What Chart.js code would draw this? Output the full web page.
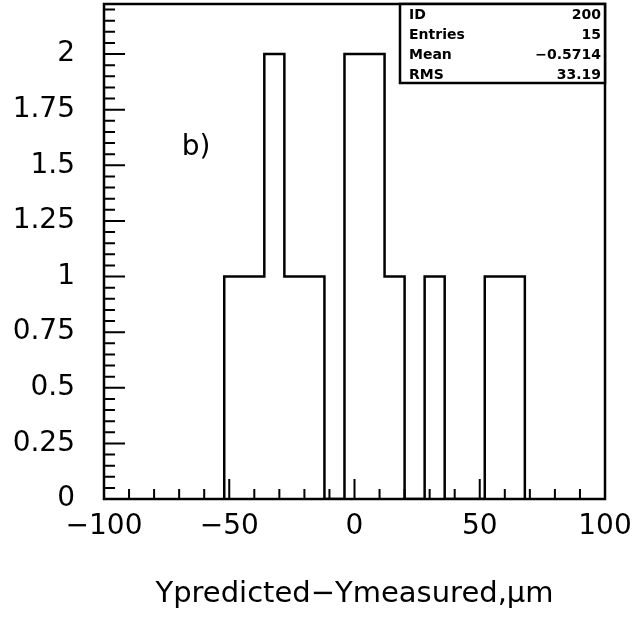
<!DOCTYPE html>
<html>
<head>
<meta charset="utf-8">
<script src="https://cdn.jsdelivr.net/npm/chart.js@4"></script>
<style>
html, body { margin: 0; padding: 0; background: #fff; }
</style>
</head>
<body>
<canvas id="histo" width="639" height="622"></canvas>
<script>
// histogram 200: bin edges (um) and entries per bin
var binEdges = [-52, -44, -36, -28, -20, -12, -4, 4, 12, 20, 28, 36, 44, 52, 60, 68];
var binCounts = [1, 1, 2, 1, 1, 0, 2, 2, 1, 0, 1, 0, 0, 1, 1];
var xTicks = [-100, -50, 0, 50, 100];
var yTicks = [0, 0.25, 0.5, 0.75, 1, 1.25, 1.5, 1.75, 2];
var statNames = ['ID', 'Entries', 'Mean', 'RMS'];
var statValues = ['200', '15', '-0.5714', '33.19'];
var xTitle = 'Ypredicted\u2212Ymeasured,\u03bcm';
var panelLabel = 'b)';

var FONT = "'DejaVu Sans', sans-serif";

function outline() {
    var pts = [{x: binEdges[0], y: 0}];
    for (var i = 0; i < binCounts.length; i++) {
        pts.push({x: binEdges[i], y: binCounts[i]});
    }
    pts.push({x: binEdges[binEdges.length - 1], y: 0});
    return pts;
}

function minus(v) {
    return String(v).replace('-', '\u2212');
}

// frame, inward ticks, stats box and panel label
var paw = {
    id: 'paw',
    afterDraw: function(chart) {
        var ctx = chart.ctx, a = chart.chartArea;
        var xs = chart.scales.x, ys = chart.scales.y;
        var v, p;
        ctx.save();
        ctx.strokeStyle = '#000';
        ctx.lineWidth = 2.5;
        ctx.strokeRect(a.left, a.top, a.right - a.left, a.bottom - a.top);

        ctx.lineWidth = 2;
        ctx.beginPath();
        for (v = -100; v <= 100.001; v += 10) {
            p = xs.getPixelForValue(v);
            ctx.moveTo(p, a.bottom);
            ctx.lineTo(p, a.bottom - (Math.abs(v % 50) < 0.001 ? 20 : 10));
        }
        for (v = 0; v <= ys.max + 0.0001; v += 0.05) {
            p = ys.getPixelForValue(v);
            var major = Math.abs(v / 0.25 - Math.round(v / 0.25)) < 0.001;
            ctx.moveTo(a.left, p);
            ctx.lineTo(a.left + (major ? 21 : 11), p);
        }
        ctx.stroke();

        // statistics box
        var bx = 400, by = a.top, bw = a.right - bx, bh = 79;
        ctx.fillStyle = '#fff';
        ctx.fillRect(bx, by, bw, bh);
        ctx.lineWidth = 2.5;
        ctx.strokeRect(bx, by, bw, bh);
        ctx.fillStyle = '#000';
        ctx.font = "bold 14px " + FONT;
        ctx.textBaseline = 'middle';
        for (var i = 0; i < statNames.length; i++) {
            var ty = by + 11 + i * 20;
            ctx.textAlign = 'left';
            ctx.fillText(statNames[i], bx + 9, ty);
            ctx.textAlign = 'right';
            ctx.fillText(minus(statValues[i]), a.right - 4, ty);
        }

        ctx.font = "28px " + FONT;
        ctx.textAlign = 'center';
        ctx.fillText(panelLabel, 196, 148);
        ctx.restore();
    }
};

var ctx = document.getElementById('histo').getContext('2d');
var chart = new Chart(ctx, {
    type: 'line',
    data: {
        datasets: [{
            data: outline(),
            stepped: true,
            borderColor: '#000',
            borderWidth: 2.5,
            pointRadius: 0,
            fill: false
        }]
    },
    options: {
        responsive: false,
        animation: false,
        devicePixelRatio: 1,
        layout: { padding: { left: 0, right: 34, top: 4, bottom: 0 } },
        plugins: { legend: { display: false }, tooltip: { enabled: false } },
        scales: {
            x: {
                type: 'linear',
                min: -100,
                max: 100,
                grid: { display: false, drawTicks: false },
                border: { display: false },
                afterBuildTicks: function(s) { s.ticks = xTicks.map(function(v) { return {value: v}; }); },
                afterFit: function(s) {
                    s.height = 123;
                    s.paddingLeft = 0;
                    s.paddingRight = 0;
                },
                ticks: {
                    color: '#000',
                    font: { family: FONT, size: 28 },
                    padding: 11,
                    maxRotation: 0,
                    autoSkip: false,
                    callback: function(v) { return minus(v); }
                },
                title: {
                    display: true,
                    text: xTitle,
                    color: '#000',
                    font: { family: FONT, size: 29 },
                    padding: { top: 0, bottom: 10 }
                }
            },
            y: {
                min: 0,
                max: 2.225,
                grid: { display: false, drawTicks: false },
                border: { display: false },
                afterBuildTicks: function(s) { s.ticks = yTicks.map(function(v) { return {value: v}; }); },
                afterFit: function(s) {
                    s.width = 104;
                    s.paddingTop = 0;
                    s.paddingBottom = 0;
                },
                ticks: {
                    color: '#000',
                    font: { family: FONT, size: 28 },
                    padding: 29,
                    autoSkip: false,
                    callback: function(v) { return String(v); }
                }
            }
        }
    },
    plugins: [paw]
});
</script>
</body>
</html>
